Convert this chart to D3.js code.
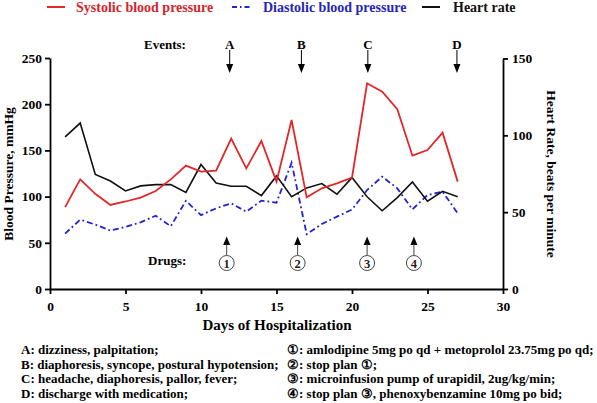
<!DOCTYPE html>
<html><head><meta charset="utf-8">
<script src="https://cdn.jsdelivr.net/npm/d3@7"></script>
<style>
html,body{margin:0;padding:0;background:#fff;}
svg text{font-family:"Liberation Serif","Times New Roman",serif;font-weight:bold;}
</style></head>
<body><svg id="c" width="597" height="403"></svg>
<script>
const days = [1,2,3,4,5,6,7,8,9,10,11,12,13,14,15,16,17,18,19,20,21,22,23,24,25,26,27];
const systolic = [88.6,118.6,103,91,94.7,99,106,118.6,133.6,127,128,162.7,130.6,160.2,116.2,182.9,99.2,109,114.4,120.5,222.6,213.6,194.5,144.3,150.4,169.2,116.2];
const diastolic = [60,75,69.7,63.2,67.2,72.2,79.3,67.9,95.4,80,87.3,92.7,83.7,95.6,93.4,136.7,59.2,70.4,78.3,86,107.1,121.6,108.9,86.2,101.7,105.3,81.9];
const heartRate = [99,108,74.6,70.3,63.8,67.1,67.9,67.9,62.8,81,69,66.9,66.9,60.8,73.6,60,65.8,68.6,61.7,72.5,60,50.9,59.5,69.7,57.1,63.6,60];
const xTicks = [0,5,10,15,20,25,30];
const bpTicks = [0,50,100,150,200,250];
const hrTicks = [0,50,100,150];
const eventLabels = ["A","B","C","D"];
const eventDays = [11.9,16.65,21.05,26.95];
const drugLabels = ["1","2","3","4"];
const drugDays = [11.7,16.4,21,24.1];
const eventNotes = ["A: dizziness, palpitation;","B: diaphoresis, syncope, postural hypotension;","C: headache, diaphoresis, pallor, fever;","D: discharge with medication;"];
const drugNotes = ["\u2460: amlodipine 5mg po qd + metoprolol 23.75mg po qd;","\u2461: stop plan \u2460;","\u2462: microinfusion pump of urapidil, 2ug/kg/min;","\u2463: stop plan \u2462, phenoxybenzamine 10mg po bid;"];
const seriesNames = ["Systolic blood pressure","Diastolic blood pressure","Heart rate"];

const RED="#e3262a", BLUE="#2323cf", BLK="#111";
const svg = d3.select("#c");
const x = d3.scaleLinear().domain([0,30]).range([50,503]);
const yL = d3.scaleLinear().domain([0,250]).range([289,58]);
const yR = d3.scaleLinear().domain([0,150]).range([289,58.5]);

function styleAxis(g){
  g.selectAll("path").attr("stroke","#000").attr("stroke-width",1.8);
  g.selectAll("line").attr("stroke","#000").attr("stroke-width",1.8);
  g.selectAll("text").attr("font-size","13.5px").attr("font-family","Liberation Serif").attr("font-weight","bold").attr("fill","#000");
}
svg.append("g").attr("transform","translate(0,289)")
  .call(d3.axisBottom(x).tickValues(xTicks).tickSize(5).tickPadding(7).tickSizeOuter(0)).call(styleAxis);
svg.append("g").attr("transform","translate(50,0)")
  .call(d3.axisLeft(yL).tickValues(bpTicks).tickSize(5).tickPadding(3).tickSizeOuter(0)).call(styleAxis);
svg.append("g").attr("transform","translate(503,0)")
  .call(d3.axisRight(yR).tickValues(hrTicks).tickSize(5).tickPadding(4).tickSizeOuter(0)).call(styleAxis);

// axis titles
svg.append("text").attr("x",277).attr("y",330).attr("text-anchor","middle").attr("font-size","15px").text("Days of Hospitalization");
svg.append("text").attr("transform","translate(13,174) rotate(-90)").attr("text-anchor","middle").attr("font-size","13.5px").text("Blood Pressure, mmHg");
svg.append("text").attr("transform","translate(547,174) rotate(90)").attr("text-anchor","middle").attr("font-size","13.5px").text("Heart Rate, beats per minute");

// lines
const lineBP = d3.line().x((d,i)=>x(days[i])).y(d=>yL(d));
const lineHR = d3.line().x((d,i)=>x(days[i])).y(d=>yR(d));
svg.append("path").datum(diastolic).attr("d",lineBP).attr("fill","none").attr("stroke",BLUE).attr("stroke-width",1.8).attr("stroke-dasharray","6,3,1.8,3");
svg.append("path").datum(heartRate).attr("d",lineHR).attr("fill","none").attr("stroke",BLK).attr("stroke-width",1.6);
svg.append("path").datum(systolic).attr("d",lineBP).attr("fill","none").attr("stroke",RED).attr("stroke-width",1.8);

// legend
const lg = [{x1:47,x2:65,tx:76,c:RED,tc:"#d3262b",dash:null,name:seriesNames[0]},
            {x1:232,x2:250,tx:263,c:BLUE,tc:"#2626b8",dash:"5,3,1.5,3",name:seriesNames[1]},
            {x1:422,x2:440,tx:453,c:BLK,tc:"#111",dash:null,name:seriesNames[2]}];
lg.forEach(l=>{
  svg.append("line").attr("x1",l.x1).attr("x2",l.x2).attr("y1",7).attr("y2",7).attr("stroke",l.c).attr("stroke-width",2).attr("stroke-dasharray",l.dash);
  svg.append("text").attr("x",l.tx).attr("y",12).attr("font-size","14px").attr("fill",l.tc).text(l.name);
});

// events
svg.append("text").attr("x",144).attr("y",49).attr("font-size","13px").text("Events:");
eventLabels.forEach((lab,i)=>{
  const cx = x(eventDays[i]);
  svg.append("text").attr("x",cx).attr("y",49).attr("text-anchor","middle").attr("font-size","13px").text(lab);
  svg.append("line").attr("x1",cx).attr("x2",cx).attr("y1",50).attr("y2",66).attr("stroke","#000").attr("stroke-width",1);
  svg.append("path").attr("d",`M${cx-3.5},64 L${cx+3.5},64 L${cx},73 Z`).attr("fill","#000");
});
// drugs
svg.append("text").attr("x",148).attr("y",265).attr("font-size","13px").text("Drugs:");
drugLabels.forEach((lab,i)=>{
  const cx = x(drugDays[i]);
  svg.append("path").attr("d",`M${cx-3.5},245 L${cx+3.5},245 L${cx},236.5 Z`).attr("fill","#000");
  svg.append("line").attr("x1",cx).attr("x2",cx).attr("y1",244).attr("y2",255).attr("stroke","#444").attr("stroke-width",1);
  svg.append("circle").attr("cx",cx).attr("cy",263).attr("r",7.5).attr("fill","none").attr("stroke","#333").attr("stroke-width",0.9);
  svg.append("text").attr("x",cx).attr("y",267.5).attr("text-anchor","middle").attr("font-size","12.5px").attr("font-weight","normal").attr("fill","#222").text(lab);
});

// notes
eventNotes.forEach((t,i)=>{
  svg.append("text").attr("x",21).attr("y",354+i*14.5).attr("font-size","13px").text(t);
});
drugNotes.forEach((t,i)=>{
  svg.append("text").attr("x",287).attr("y",354+i*14.5).attr("font-size","13px").text(t);
});
</script></body></html>
